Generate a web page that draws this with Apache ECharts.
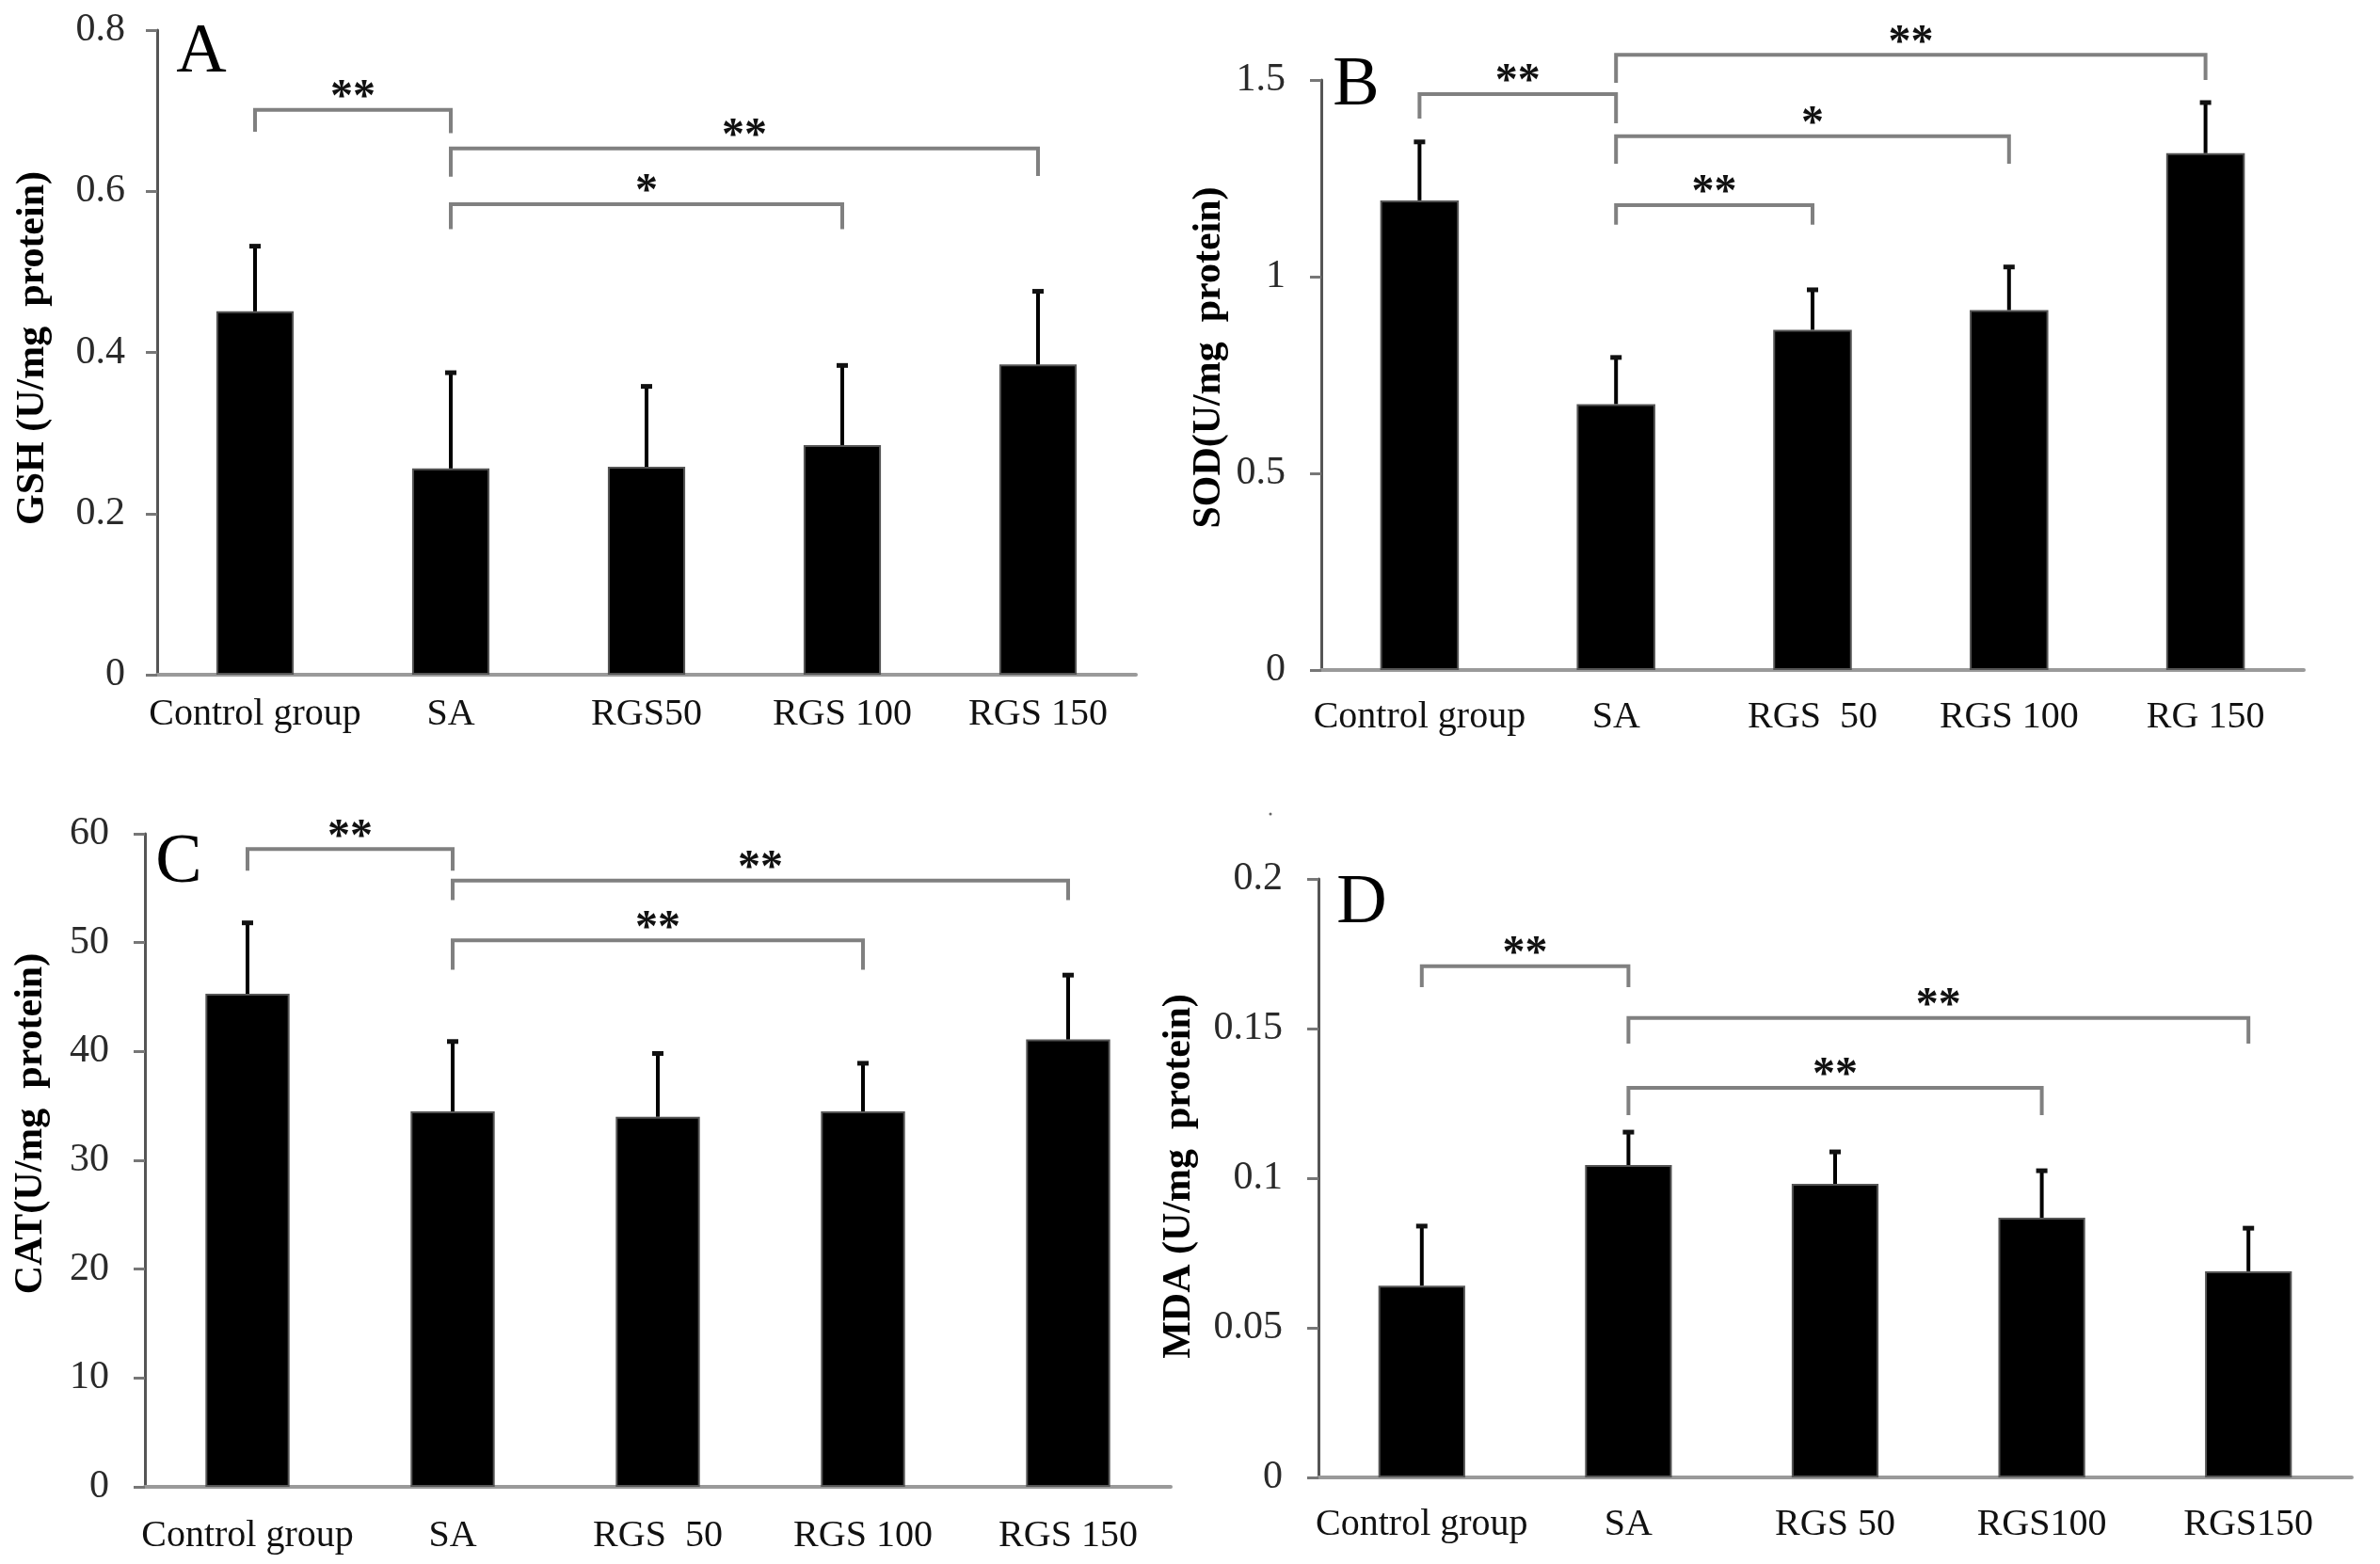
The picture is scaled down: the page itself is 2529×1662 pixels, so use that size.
<!DOCTYPE html>
<html>
<head>
<meta charset="utf-8">
<script src="https://cdn.jsdelivr.net/npm/echarts@6/dist/echarts.min.js"></script>
<style>
html,body{margin:0;padding:0;background:#fff;}
#chart{width:2529px;height:1662px;}
</style>
</head>
<body>
<div id="chart"></div>
<script>
// ---------- DATA ----------
const gshCategories = ['Control group', 'SA', 'RGS50', 'RGS 100', 'RGS 150'];
const gshMean = [0.451, 0.256, 0.258, 0.285, 0.385];
const gshSD   = [0.082, 0.120, 0.101, 0.100, 0.092];
const gshTicks = [0, 0.8, 0.2];
// [fromIndex, toIndex, level, leftEnd, rightEnd]
const gshBrackets = [[0, 1, 0.701, 0.674, 0.672], [1, 4, 0.653, 0.618, 0.619], [1, 3, 0.584, 0.553, 0.553]];
const gshStars = ['**', '**', '*'];

const sodCategories = ['Control group', 'SA', 'RGS  50', 'RGS 100', 'RG 150'];
const sodMean = [1.194, 0.676, 0.865, 0.915, 1.314];
const sodSD   = [0.151, 0.121, 0.104, 0.112, 0.131];
const sodTicks = [0, 1.5, 0.5];
const sodBrackets = [[0, 1, 1.464, 1.402, 1.390], [1, 4, 1.564, 1.493, 1.500], [1, 3, 1.357, 1.287, 1.287], [1, 2, 1.182, 1.132, 1.132]];
const sodStars = ['**', '**', '*', '**'];

const catCategories = ['Control group', 'SA', 'RGS  50', 'RGS 100', 'RGS 150'];
const catMean = [45.3, 34.5, 34.0, 34.5, 41.1];
const catSD   = [6.6, 6.5, 5.9, 4.5, 6.0];
const catTicks = [0, 60, 10];
const catBrackets = [[0, 1, 58.6, 56.6, 56.6], [1, 4, 55.7, 53.9, 53.9], [1, 3, 50.2, 47.5, 47.5]];
const catStars = ['**', '**', '**'];

const mdaCategories = ['Control group', 'SA', 'RGS 50', 'RGS100', 'RGS150'];
const mdaMean = [0.0641, 0.1044, 0.0981, 0.0868, 0.0689];
const mdaSD   = [0.0202, 0.0113, 0.0110, 0.0160, 0.0147];
const mdaTicks = [0, 0.2, 0.05];
const mdaBrackets = [[0, 1, 0.1708, 0.1638, 0.1638], [1, 4, 0.1535, 0.1450, 0.1450], [1, 3, 0.1302, 0.1211, 0.1211]];
const mdaStars = ['**', '**', '**'];

const panelTitles = ['GSH (U/mg  protein)', 'SOD(U/mg  protein)', 'CAT(U/mg  protein)', 'MDA (U/mg  protein)'];
const panelLetters = ['A', 'B', 'C', 'D'];

// ---------- LAYOUT ----------
const FONT = '"Liberation Serif", "Times New Roman", serif';
const panels = [
  {cats: gshCategories, mean: gshMean, sd: gshSD, ticks: gshTicks, br: gshBrackets, stars: gshStars,
   grid: {left: 167, top: 32, width: 1040, height: 685}, barW: '39.5%', catMargin: 22, tickMargin: 34,
   title: [35, 370], letter: [214, 57]},
  {cats: sodCategories, mean: sodMean, sd: sodSD, ticks: sodTicks, br: sodBrackets, stars: sodStars,
   grid: {left: 1404, top: 85, width: 1044, height: 627}, barW: '40%', catMargin: 30, tickMargin: 38,
   title: [1285, 380], letter: [1441, 92]},
  {cats: catCategories, mean: catMean, sd: catSD, ticks: catTicks, br: catBrackets, stars: catStars,
   grid: {left: 154, top: 886, width: 1090, height: 694}, barW: '41%', catMargin: 32, tickMargin: 38,
   title: [33, 1194], letter: [190, 918]},
  {cats: mdaCategories, mean: mdaMean, sd: mdaSD, ticks: mdaTicks, br: mdaBrackets, stars: mdaStars,
   grid: {left: 1401, top: 934, width: 1098, height: 636}, barW: '42%', catMargin: 30, tickMargin: 38,
   title: [1253, 1250], letter: [1447, 961]}
];

const grids = [], xAxes = [], yAxes = [], series = [], graphics = [];
panels.forEach((p, i) => {
  grids.push(Object.assign({outerBoundsMode: 'none', containLabel: false}, p.grid));
  xAxes.push({
    type: 'category', gridIndex: i, data: p.cats,
    axisTick: {show: false},
    axisLine: {show: true, lineStyle: {color: '#9a9a9a', width: 4}},
    axisLabel: {interval: 0, margin: p.catMargin, fontFamily: FONT, fontSize: 40, color: '#111'},
    splitLine: {show: false}
  });
  yAxes.push({
    type: 'value', gridIndex: i, min: p.ticks[0], max: p.ticks[1], interval: p.ticks[2],
    axisLine: {show: true, lineStyle: {color: '#555', width: 3}},
    axisTick: {show: true, length: 12, lineStyle: {color: '#777', width: 3}},
    axisLabel: {margin: p.tickMargin, fontFamily: FONT, fontSize: 42, color: '#2a2a2a'},
    splitLine: {show: false}
  });
  series.push({
    type: 'bar', xAxisIndex: i, yAxisIndex: i, data: p.mean, barWidth: p.barW,
    itemStyle: {color: '#000', borderColor: '#555', borderWidth: 2},
    z: 2
  });
  series.push({
    type: 'custom', xAxisIndex: i, yAxisIndex: i, z: 3,
    data: p.mean.map((m, k) => [k, m, p.sd[k]]),
    renderItem: function (params, api) {
      const k = api.value(0), m = api.value(1), s = api.value(2);
      const p0 = api.coord([k, m]);
      const p1 = api.coord([k, m + s]);
      return {type: 'group', children: [
        {type: 'line', shape: {x1: p0[0], y1: p0[1], x2: p1[0], y2: p1[1]}, style: {stroke: '#000', lineWidth: 4}},
        {type: 'line', shape: {x1: p1[0] - 6, y1: p1[1] + 1, x2: p1[0] + 6, y2: p1[1] + 1}, style: {stroke: '#111', lineWidth: 5}}
      ]};
    }
  });
  series.push({
    type: 'custom', xAxisIndex: i, yAxisIndex: i, z: 4, clip: false,
    data: p.br.map(b => [b[0], b[2]]),
    renderItem: function (params, api) {
      const b = p.br[params.dataIndex];
      const a = api.coord([b[0], b[2]]);
      const c = api.coord([b[1], b[2]]);
      const aEnd = api.coord([b[0], b[3]]);
      const cEnd = api.coord([b[1], b[4]]);
      return {type: 'group', children: [
        {type: 'polyline', shape: {points: [[a[0], aEnd[1]], [a[0], a[1]], [c[0], c[1]], [c[0], cEnd[1]]]},
         style: {stroke: '#808080', lineWidth: 4, fill: null}},
        {type: 'text', style: {x: (a[0] + c[0]) / 2, y: a[1] - 12, text: p.stars[params.dataIndex],
         font: 'bold 48px ' + FONT, fill: '#111', textAlign: 'center', textVerticalAlign: 'middle'}}
      ]};
    }
  });
  graphics.push({
    type: 'text', x: p.title[0], y: p.title[1], rotation: Math.PI / 2,
    style: {text: panelTitles[i], font: 'bold 42px ' + FONT, fill: '#000', textAlign: 'center', textVerticalAlign: 'middle'}
  });
  graphics.push({
    type: 'text', x: p.letter[0], y: p.letter[1],
    style: {text: panelLetters[i], font: '74px ' + FONT, fill: '#000', textAlign: 'center', textVerticalAlign: 'middle'}
  });
});
graphics.push({type: 'circle', shape: {cx: 1350, cy: 865, r: 1.5}, style: {fill: '#666'}});

const chart = echarts.init(document.getElementById('chart'), null, {renderer: 'canvas'});
chart.setOption({
  animation: false,
  backgroundColor: '#fff',
  grid: grids, xAxis: xAxes, yAxis: yAxes, series: series, graphic: graphics
});
</script>
</body>
</html>
